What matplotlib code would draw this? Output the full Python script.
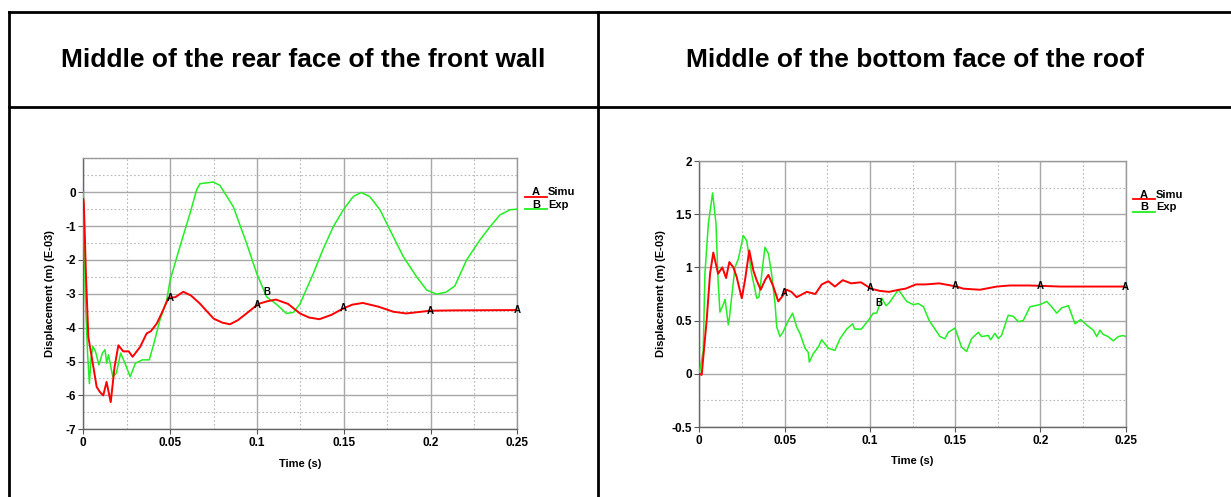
import matplotlib
matplotlib.use("Agg")
import matplotlib.pyplot as plt
import numpy as np
from matplotlib.lines import Line2D
from matplotlib.ticker import MultipleLocator

plt.rcParams['font.family'] = ['Liberation Sans', 'DejaVu Sans']

W, H = 1231, 497

# Left chart : middle of the rear face of the front wall
left_title = "Middle of the rear face of the front wall"
left_simu_t = [0, 0.0003, 0.0009, 0.0015, 0.0029, 0.0058, 0.0077, 0.0096, 0.0115, 0.0134, 0.0158, 0.018, 0.0202,
               0.023, 0.0262, 0.0284, 0.0327, 0.0365, 0.039, 0.0423, 0.046, 0.049, 0.053, 0.0576, 0.062, 0.067,
               0.075, 0.08, 0.0845, 0.089, 0.094, 0.1008, 0.106, 0.111, 0.118, 0.1248, 0.13, 0.136, 0.143, 0.1498,
               0.155, 0.161, 0.17, 0.1786, 0.186, 0.1997, 0.213, 0.25]
left_simu_y = [-0.2, -0.33, -1.31, -2.4, -4.27, -5.16, -5.75, -5.9, -6.0, -5.6, -6.2, -5.16, -4.52,
               -4.7, -4.7, -4.86, -4.57, -4.17, -4.1, -3.88, -3.48, -3.12, -3.1, -2.94, -3.05, -3.28,
               -3.73, -3.85, -3.9, -3.78, -3.58, -3.3, -3.22, -3.17, -3.3, -3.58, -3.7, -3.75, -3.62, -3.43,
               -3.32, -3.27, -3.38, -3.53, -3.58, -3.5, -3.49, -3.48]
left_exp_t = [0, 0.0012, 0.0025, 0.0035, 0.0045, 0.0055, 0.007, 0.009, 0.011, 0.0125, 0.0135, 0.0145, 0.017,
              0.019, 0.0215, 0.024, 0.027, 0.030, 0.034, 0.038, 0.041, 0.044, 0.048, 0.05, 0.0557, 0.0615,
              0.0653, 0.0672, 0.0749, 0.0787, 0.0864, 0.094, 0.0999, 0.1056, 0.111, 0.117, 0.121, 0.1248,
              0.1325, 0.138, 0.144, 0.1498, 0.1555, 0.160, 0.165, 0.1709, 0.1767, 0.1843, 0.192, 0.1978,
              0.2036, 0.209, 0.214, 0.2208, 0.2285, 0.2343, 0.24, 0.2458, 0.25]
left_exp_y = [0, -3.2, -4.8, -5.65, -4.9, -4.55, -4.7, -5.1, -4.75, -4.65, -5.05, -4.8, -5.45,
              -5.35, -4.75, -5.05, -5.45, -5.05, -4.95, -4.95, -4.4, -3.8, -3.2, -2.6, -1.6, -0.62,
              0.07, 0.25, 0.3, 0.2, -0.43, -1.5, -2.4, -3.09, -3.3, -3.58, -3.55, -3.3,
              -2.4, -1.7, -1.02, -0.52, -0.13, -0.01, -0.13, -0.52, -1.12, -1.9, -2.5, -2.89,
              -3.01, -2.95, -2.77, -2.0, -1.41, -1.02, -0.67, -0.52, -0.5]
left_yticks = [0, -1, -2, -3, -4, -5, -6, -7]

# Right chart : middle of the bottom face of the roof
right_title = "Middle of the bottom face of the roof"
right_simu_t = [0, 0.0014, 0.0043, 0.0063, 0.0082, 0.011, 0.0135, 0.0157, 0.0176, 0.02, 0.0219, 0.0249, 0.0268,
                0.0293, 0.0317, 0.0336, 0.036, 0.0385, 0.0405, 0.0434, 0.0463, 0.0483, 0.0512, 0.054, 0.0571,
                0.063, 0.068, 0.0718, 0.0756, 0.0795, 0.0841, 0.089, 0.0948, 0.1007, 0.1056, 0.1112, 0.117,
                0.1209, 0.127, 0.1327, 0.1407, 0.1509, 0.1548, 0.1646, 0.1744, 0.182, 0.1937, 0.2117, 0.223, 0.25]
right_simu_y = [0, -0.01, 0.5, 0.94, 1.14, 0.94, 1.0, 0.9, 1.05, 1.0, 0.91, 0.71, 0.88,
                1.16, 0.97, 0.88, 0.79, 0.88, 0.93, 0.82, 0.68, 0.72, 0.79, 0.77, 0.72,
                0.77, 0.75, 0.84, 0.87, 0.82, 0.88, 0.85, 0.86, 0.8, 0.78, 0.77, 0.79,
                0.8, 0.84, 0.84, 0.85, 0.82, 0.8, 0.79, 0.82, 0.83, 0.83, 0.82, 0.82, 0.82]
right_exp_t = [0, 0.0023, 0.0033, 0.0053, 0.0078, 0.0098, 0.011, 0.0121, 0.014, 0.0151, 0.017, 0.0176, 0.0209,
               0.0229, 0.0258, 0.0278, 0.0307, 0.0337, 0.035, 0.0385, 0.0405, 0.0424, 0.0444, 0.0454, 0.0473,
               0.049, 0.0522, 0.0547, 0.0571, 0.059, 0.062, 0.0639, 0.0645, 0.0668, 0.0697, 0.0718, 0.0737,
               0.0756, 0.0795, 0.0825, 0.0864, 0.0899, 0.0911, 0.095, 0.099, 0.102, 0.104, 0.107, 0.1095,
               0.1115, 0.1167, 0.1216, 0.1255, 0.1284, 0.1314, 0.1348, 0.1411, 0.144, 0.146, 0.1499, 0.1538,
               0.1567, 0.1596, 0.1636, 0.1655, 0.1694, 0.1708, 0.1733, 0.1753, 0.1772, 0.1811, 0.1841, 0.187,
               0.1899, 0.1939, 0.1997, 0.2037, 0.2066, 0.2096, 0.2125, 0.2164, 0.2203, 0.2236, 0.227, 0.231,
               0.233, 0.2349, 0.2368, 0.2397, 0.2427, 0.2457, 0.2485, 0.25]
right_exp_y = [0, 0.22, 0.94, 1.41, 1.7, 1.41, 0.88, 0.58, 0.65, 0.7, 0.46, 0.52, 1.0,
               1.08, 1.3, 1.25, 0.94, 0.71, 0.72, 1.19, 1.13, 0.94, 0.66, 0.44, 0.35,
               0.39, 0.5, 0.57, 0.44, 0.38, 0.24, 0.2, 0.11, 0.19, 0.25, 0.32, 0.28,
               0.24, 0.22, 0.33, 0.42, 0.47, 0.42, 0.42, 0.5, 0.57, 0.57, 0.71, 0.64,
               0.67, 0.79, 0.68, 0.65, 0.66, 0.63, 0.5, 0.35, 0.33, 0.39, 0.43, 0.25,
               0.21, 0.33, 0.39, 0.35, 0.36, 0.32, 0.38, 0.33, 0.36, 0.55, 0.54, 0.49,
               0.5, 0.63, 0.65, 0.68, 0.63, 0.57, 0.62, 0.64, 0.47, 0.51, 0.46, 0.41,
               0.35, 0.41, 0.37, 0.35, 0.31, 0.35, 0.36, 0.35]
right_yticks = [2, 1.5, 1, 0.5, 0, -0.5]

xticks = [0, 0.05, 0.1, 0.15, 0.2, 0.25]
series_names = ["Simu", "Exp"]
series_letters = ["A", "B"]
simu_marks = [0.05, 0.1, 0.15, 0.2, 0.25]
left_exp_marks = [0.106]
right_exp_marks = [0.105]

RED = "#ff0000"
GREEN = "#22ee22"


def fx(px):
    return px / W


def fy(py):
    return 1 - py / H


fig = plt.figure(figsize=(W / 100, H / 100), dpi=100)

# table borders
for x0, y0, x1, y1 in [(9, 12, W, 12), (9, 107, W, 107), (9, 12, 9, H), (598, 12, 598, H)]:
    fig.add_artist(Line2D([fx(x0), fx(x1)], [fy(y0), fy(y1)], color="black", lw=2))

fig.text(fx(303.5), fy(60), left_title, ha="center", va="center", fontsize=19, fontweight="bold")
fig.text(fx(915.5), fy(60), right_title, ha="center", va="center", fontsize=19, fontweight="bold")


def make_chart(rect, ylim, yticks, ymin_step, simu, exp, exp_marks, ylabel_px, legend_px):
    ax = fig.add_axes(rect)
    ax.set_xlim(0, 0.25)
    ax.set_ylim(*ylim)
    ax.set_xticks(xticks)
    ax.set_xticklabels([f"{v:g}" for v in xticks])
    ax.set_yticks(yticks)
    ax.set_yticklabels([f"{v:g}" for v in yticks])
    ax.xaxis.set_minor_locator(MultipleLocator(0.025))
    ax.yaxis.set_minor_locator(MultipleLocator(ymin_step))
    ax.grid(which="major", color="#a8a8a8", lw=1.0, ls="-")
    ax.grid(which="minor", color="#b8b8b8", lw=0.8, ls=(0, (1.5, 2)))
    ax.tick_params(which="minor", length=0)
    ax.tick_params(which="major", length=3.5, width=0.8, color="#555555", pad=2)
    for lab in ax.get_xticklabels() + ax.get_yticklabels():
        lab.set_fontsize(8.5)
        lab.set_fontweight("bold")
    for s in ["left", "bottom"]:
        ax.spines[s].set_color("#666666")
        ax.spines[s].set_linewidth(1.0)
    for s in ["top", "right"]:
        ax.spines[s].set_color("#999999")
        ax.spines[s].set_linewidth(1.0)

    ax.plot(exp[0], exp[1], color=GREEN, lw=1.1, zorder=3)
    ax.plot(simu[0], simu[1], color=RED, lw=1.4, zorder=4)

    for t in simu_marks:
        ax.text(t, np.interp(t, simu[0], simu[1]), "A", ha="center", va="center",
                fontsize=7, fontweight="bold", zorder=5, clip_on=False)
    for t in exp_marks:
        ax.text(t, np.interp(t, exp[0], exp[1]) + 0.02 * (ylim[1] - ylim[0]), "B", ha="center", va="center",
                fontsize=7, fontweight="bold", zorder=5)

    ax.set_xlabel("Time (s)", fontsize=8, fontweight="bold", labelpad=7)
    fig.text(fx(ylabel_px), rect[1] + rect[3] / 2, "Displacement (m) (E-03)", rotation=90,
             ha="center", va="center", fontsize=8, fontweight="bold")

    lx, ly = legend_px
    for i, (name, letter, col) in enumerate(zip(series_names, series_letters, [RED, GREEN])):
        yline = ly + i * 12.5
        fig.add_artist(Line2D([fx(lx), fx(lx + 22)], [fy(yline), fy(yline)], color=col, lw=1.3))
        fig.text(fx(lx + 11), fy(yline - 4), letter, ha="center", va="center", fontsize=8, fontweight="bold")
        fig.text(fx(lx + 23), fy(yline - 4), name, ha="left", va="center", fontsize=8, fontweight="bold")
    return ax


make_chart([fx(83.3), fy(429.3), (517.3 - 83.3) / W, (429.3 - 158.3) / H], (-7, 1), left_yticks, 0.5,
           (left_simu_t, left_simu_y), (left_exp_t, left_exp_y), left_exp_marks, 50, (525, 196.5))
make_chart([fx(699.3), fy(427), (1125.7 - 699.3) / W, (427 - 161) / H], (-0.5, 2), right_yticks, 0.25,
           (right_simu_t, right_simu_y), (right_exp_t, right_exp_y), right_exp_marks, 661.5, (1133, 199))

fig.savefig("out.png", dpi=100)
